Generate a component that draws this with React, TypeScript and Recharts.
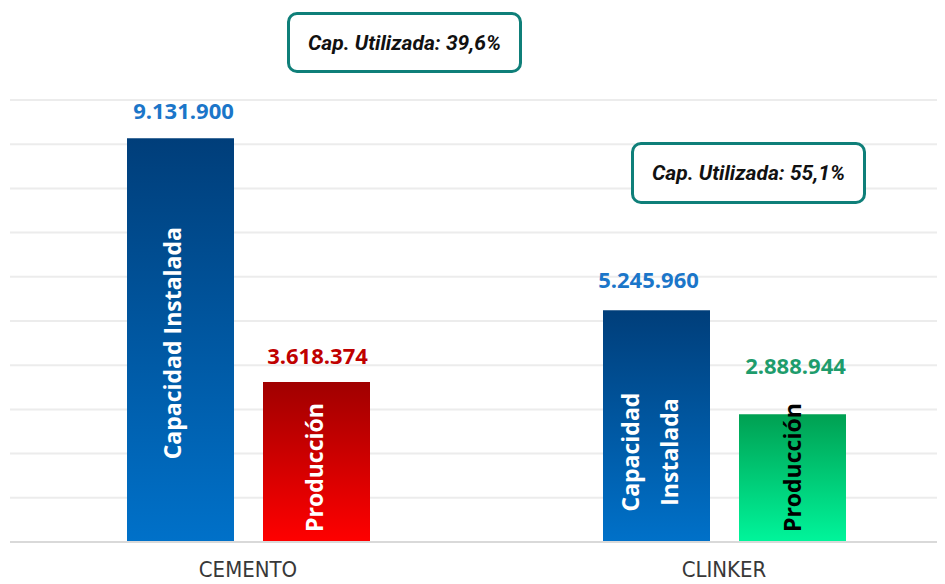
import { BarChart, Bar, XAxis, YAxis, CartesianGrid, LabelList, Cell } from "recharts";

// ── datos ──

const categories = ["CEMENTO", "CLINKER"];
const capacidadInstalada = [9131900, 5245960];
const produccion = [3618374, 2888944];
const capUtilizada = ["39,6%", "55,1%"];
const yTicks = [0, 1000000, 2000000, 3000000, 4000000, 5000000, 6000000, 7000000, 8000000, 9000000, 10000000];

const data = categories.map((name, i) => ({
  name,
  capacidad: capacidadInstalada[i],
  produccion: produccion[i],
}));

// ── estilos ──

const VALUE_FONT = { fontFamily: "'Open Sans', sans-serif", fontWeight: 700, fontSize: 22 };
const INNER_FONT = { fontFamily: "'Open Sans', sans-serif", fontWeight: 700, fontSize: 23 };
const CONDENSED = "'DejaVu Sans Condensed', 'Liberation Sans', sans-serif";

const CAP_VALUE = [
  { color: "#1b76c9", dx: 3, dy: -27 },
  { color: "#1b76c9", dx: -8, dy: -30 },
];
const PROD_VALUE = [
  { color: "#c00000", dx: 1, dy: -26.5 },
  { color: "#1e9c6c", dx: 3, dy: -48.5 },
];
const CAP_INNER = [
  { lines: ["Capacidad Instalada"], color: "#ffffff", dx: [0], dy: 3 },
  { lines: ["Capacidad", "Instalada"], color: "#ffffff", dx: [-18, 21], dy: 26 },
];
const PROD_INNER = [
  { lines: ["Producción"], color: "#ffffff", dx: [6], dy: 5.5 },
  { lines: ["Producción"], color: "#000000", dx: [8], dy: -10.5 },
];
const PROD_FILLS = ["url(#gradRed)", "url(#gradGreen)"];

const CALLOUTS = [
  { left: 279, top: 4, height: 61 },
  { left: 623, top: 134, height: 62 },
];

// ── utilidades ──

function formatMiles(v: number): string {
  return String(v).replace(/\B(?=(\d{3})+(?!\d))/g, ".");
}

function box(props: any) {
  const vb = props.viewBox ?? {};
  return {
    x: props.x ?? vb.x ?? 0,
    y: props.y ?? vb.y ?? 0,
    width: props.width ?? vb.width ?? 0,
    height: props.height ?? vb.height ?? 0,
  };
}

function valueLabel(styles: { color: string; dx: number; dy: number }[]) {
  return (props: any) => {
    const { x, y, width } = box(props);
    const s = styles[props.index ?? 0];
    return (
      <text x={x + width / 2 + s.dx} y={y + s.dy + 8} textAnchor="middle" fill={s.color} style={VALUE_FONT}>
        {formatMiles(Number(props.value))}
      </text>
    );
  };
}

function innerLabel(styles: { lines: string[]; color: string; dx: number[]; dy: number }[]) {
  return (props: any) => {
    const { x, y, width, height } = box(props);
    const s = styles[props.index ?? 0];
    const cx = x + width / 2;
    const cy = y + height / 2 + s.dy;
    return (
      <g>
        {s.lines.map((line, i) => (
          <text
            key={line}
            transform={`translate(${cx + s.dx[i]}, ${cy}) rotate(-90)`}
            textAnchor="middle"
            fill={s.color}
            style={INNER_FONT}
          >
            {line}
          </text>
        ))}
      </g>
    );
  };
}

// ── componente principal ──

export default function App() {
  return (
    <div style={{ position: "relative", width: 937, height: 576, overflow: "hidden", background: "#fff" }}>
      <BarChart
        width={954}
        height={576}
        data={data}
        margin={{ top: 92, right: 0, left: 2, bottom: 0 }}
        barSize={107}
        barGap={29}
      >
        <defs>
          <linearGradient id="gradCap" x1="0" y1="0" x2="0" y2="1">
            <stop offset="0%" stopColor="#003e7a" />
            <stop offset="100%" stopColor="#0071c9" />
          </linearGradient>
          <linearGradient id="gradRed" x1="0" y1="0" x2="0" y2="1">
            <stop offset="0%" stopColor="#a00000" />
            <stop offset="100%" stopColor="#ff0000" />
          </linearGradient>
          <linearGradient id="gradGreen" x1="0" y1="0" x2="0" y2="1">
            <stop offset="0%" stopColor="#00a052" />
            <stop offset="100%" stopColor="#00f59b" />
          </linearGradient>
        </defs>
        <CartesianGrid vertical={false} stroke="#ececec" strokeWidth={2} />
        <XAxis
          dataKey="name"
          height={42}
          tickLine={false}
          tickMargin={13}
          axisLine={{ stroke: "#d9d9d9", strokeWidth: 2 }}
          tick={{ fontSize: 22, fill: "#383838", fontFamily: CONDENSED }}
        />
        <YAxis hide domain={[0, 10000000]} ticks={yTicks} />
        <Bar dataKey="capacidad" fill="url(#gradCap)" isAnimationActive={false}>
          <LabelList dataKey="capacidad" content={valueLabel(CAP_VALUE)} />
          <LabelList dataKey="capacidad" content={innerLabel(CAP_INNER)} />
        </Bar>
        <Bar dataKey="produccion" isAnimationActive={false}>
          {data.map((d, i) => (
            <Cell key={d.name} fill={PROD_FILLS[i]} />
          ))}
          <LabelList dataKey="produccion" content={valueLabel(PROD_VALUE)} />
          <LabelList dataKey="produccion" content={innerLabel(PROD_INNER)} />
        </Bar>
      </BarChart>
      {capUtilizada.map((v, i) => (
        <div
          key={v}
          style={{
            position: "absolute",
            left: CALLOUTS[i].left,
            top: CALLOUTS[i].top,
            width: 235,
            height: CALLOUTS[i].height,
            boxSizing: "border-box",
            border: "3px solid #0f7f79",
            borderRadius: 10,
            background: "#fff",
            display: "flex",
            alignItems: "center",
            justifyContent: "center",
            whiteSpace: "nowrap",
            fontFamily: "Roboto, 'Liberation Sans', sans-serif",
            fontWeight: 700,
            fontStyle: "italic",
            fontSize: 21,
            color: "#111",
          }}
        >
          Cap. Utilizada: {v}
        </div>
      ))}
    </div>
  );
}
